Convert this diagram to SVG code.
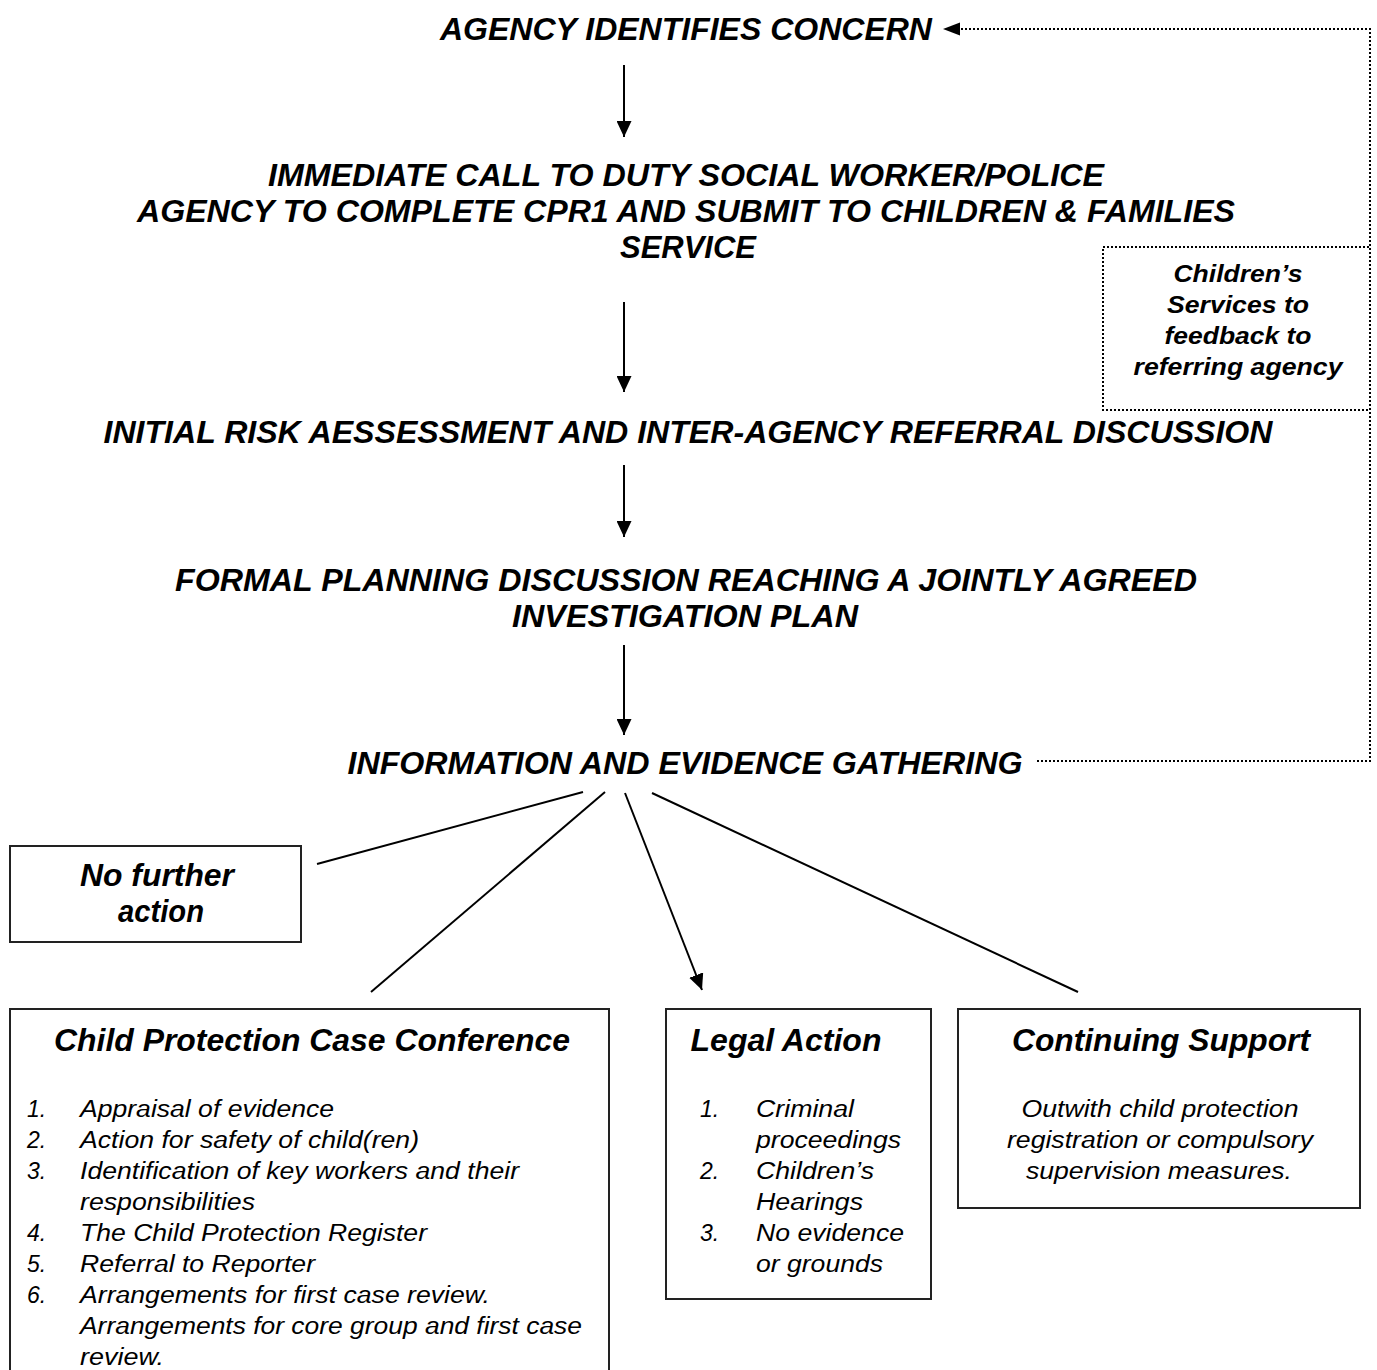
<svg xmlns="http://www.w3.org/2000/svg" width="1377" height="1370" viewBox="0 0 1377 1370">
<defs>
<marker id="ah" viewBox="0 0 16 15" refX="16" refY="7.5" markerWidth="16" markerHeight="15" markerUnits="userSpaceOnUse" orient="auto">
<path d="M0,0 L16,7.5 L0,15 Z" fill="#000"/>
</marker>
<style>
.h{font-family:"Liberation Sans",Arial,sans-serif;font-weight:bold;font-style:italic;font-size:31px;fill:#000;text-anchor:middle}
.t{font-family:"Liberation Sans",Arial,sans-serif;font-weight:bold;font-style:italic;font-size:31px;fill:#000;text-anchor:middle}
.fb{font-family:"Liberation Sans",Arial,sans-serif;font-weight:bold;font-style:italic;font-size:24px;fill:#000;text-anchor:middle}
.b{font-family:"Liberation Sans",Arial,sans-serif;font-style:italic;font-size:23px;fill:#000}
.bc{font-family:"Liberation Sans",Arial,sans-serif;font-style:italic;font-size:23px;fill:#000;text-anchor:middle}
.box{fill:#fff;stroke:#222;stroke-width:2}
.dot{fill:none;stroke:#000;stroke-width:2;stroke-dasharray:2 2}
.ln{fill:none;stroke:#000;stroke-width:2}
</style>
</defs>
<rect width="1377" height="1370" fill="#fff"/>

<g id="connectors">
<line class="ln" x1="624" y1="65" x2="624" y2="137" marker-end="url(#ah)"/>
<line class="ln" x1="624" y1="302" x2="624" y2="392" marker-end="url(#ah)"/>
<line class="ln" x1="624" y1="465" x2="624" y2="537" marker-end="url(#ah)"/>
<line class="ln" x1="624" y1="645" x2="624" y2="735" marker-end="url(#ah)"/>
<line class="ln" x1="583" y1="792" x2="317" y2="864"/>
<line class="ln" x1="605" y1="792" x2="371" y2="992"/>
<line class="ln" x1="625" y1="793" x2="702" y2="990" marker-end="url(#ah)"/>
<line class="ln" x1="652" y1="793" x2="1078" y2="992"/>
<polyline class="dot" points="1037,761 1370,761 1370,29 958,29"/>
<path d="M943,29 L960,22.5 L960,35.5 Z" fill="#000"/>
</g>

<g id="n-agency"><text class="h" x="686" y="40" textLength="492" lengthAdjust="spacingAndGlyphs">AGENCY IDENTIFIES CONCERN</text></g>

<g id="n-immediate">
<text class="h" x="686" y="186" textLength="836" lengthAdjust="spacingAndGlyphs">IMMEDIATE CALL TO DUTY SOCIAL WORKER/POLICE</text>
<text class="h" x="686" y="222" textLength="1098" lengthAdjust="spacingAndGlyphs">AGENCY TO COMPLETE CPR1 AND SUBMIT TO CHILDREN &amp; FAMILIES</text>
<text class="h" x="688" y="258" textLength="136" lengthAdjust="spacingAndGlyphs">SERVICE</text>
</g>

<g id="n-feedback">
<rect class="dot" x="1103" y="247" width="267" height="163"/>
<text class="fb" x="1238" y="282" textLength="129" lengthAdjust="spacingAndGlyphs">Children’s</text>
<text class="fb" x="1238" y="313" textLength="142" lengthAdjust="spacingAndGlyphs">Services to</text>
<text class="fb" x="1238" y="344" textLength="147" lengthAdjust="spacingAndGlyphs">feedback to</text>
<text class="fb" x="1238" y="375" textLength="209" lengthAdjust="spacingAndGlyphs">referring agency</text>
</g>

<g id="n-initial"><text class="h" x="688" y="443" textLength="1169" lengthAdjust="spacingAndGlyphs">INITIAL RISK AESSESSMENT AND INTER-AGENCY REFERRAL DISCUSSION</text></g>

<g id="n-formal">
<text class="h" x="686" y="591" textLength="1022" lengthAdjust="spacingAndGlyphs">FORMAL PLANNING DISCUSSION REACHING A JOINTLY AGREED</text>
<text class="h" x="685" y="627" textLength="346" lengthAdjust="spacingAndGlyphs">INVESTIGATION PLAN</text>
</g>

<g id="n-info"><text class="h" x="685" y="774" textLength="675" lengthAdjust="spacingAndGlyphs">INFORMATION AND EVIDENCE GATHERING</text></g>

<g id="n-nfa">
<rect class="box" x="10" y="846" width="291" height="96"/>
<text class="t" x="157" y="886" textLength="154" lengthAdjust="spacingAndGlyphs">No further</text>
<text class="t" x="161" y="922" textLength="86" lengthAdjust="spacingAndGlyphs">action</text>
</g>

<g id="n-cpcc">
<rect class="box" x="10" y="1009" width="599" height="380"/>
<text class="t" x="312" y="1051" textLength="516" lengthAdjust="spacingAndGlyphs">Child Protection Case Conference</text>
<text class="b" x="27" y="1117">1.</text><text class="b" x="80" y="1117" textLength="254" lengthAdjust="spacingAndGlyphs">Appraisal of evidence</text>
<text class="b" x="27" y="1148">2.</text><text class="b" x="80" y="1148" textLength="339" lengthAdjust="spacingAndGlyphs">Action for safety of child(ren)</text>
<text class="b" x="27" y="1179">3.</text><text class="b" x="80" y="1179" textLength="439" lengthAdjust="spacingAndGlyphs">Identification of key workers and their</text>
<text class="b" x="80" y="1210" textLength="175" lengthAdjust="spacingAndGlyphs">responsibilities</text>
<text class="b" x="27" y="1241">4.</text><text class="b" x="80" y="1241" textLength="347" lengthAdjust="spacingAndGlyphs">The Child Protection Register</text>
<text class="b" x="27" y="1272">5.</text><text class="b" x="80" y="1272" textLength="235" lengthAdjust="spacingAndGlyphs">Referral to Reporter</text>
<text class="b" x="27" y="1303">6.</text><text class="b" x="80" y="1303" textLength="410" lengthAdjust="spacingAndGlyphs">Arrangements for first case review.</text>
<text class="b" x="80" y="1334" textLength="502" lengthAdjust="spacingAndGlyphs">Arrangements for core group and first case</text>
<text class="b" x="80" y="1365" textLength="84" lengthAdjust="spacingAndGlyphs">review.</text>
</g>

<g id="n-legal">
<rect class="box" x="666" y="1009" width="265" height="290"/>
<text class="t" x="786" y="1051" textLength="191" lengthAdjust="spacingAndGlyphs">Legal Action</text>
<text class="b" x="700" y="1117">1.</text><text class="b" x="756" y="1117" textLength="98" lengthAdjust="spacingAndGlyphs">Criminal</text>
<text class="b" x="756" y="1148" textLength="145" lengthAdjust="spacingAndGlyphs">proceedings</text>
<text class="b" x="700" y="1179">2.</text><text class="b" x="756" y="1179" textLength="118" lengthAdjust="spacingAndGlyphs">Children’s</text>
<text class="b" x="756" y="1210" textLength="107" lengthAdjust="spacingAndGlyphs">Hearings</text>
<text class="b" x="700" y="1241">3.</text><text class="b" x="756" y="1241" textLength="148" lengthAdjust="spacingAndGlyphs">No evidence</text>
<text class="b" x="756" y="1272" textLength="127" lengthAdjust="spacingAndGlyphs">or grounds</text>
</g>

<g id="n-support">
<rect class="box" x="958" y="1009" width="402" height="199"/>
<text class="t" x="1161" y="1051" textLength="298" lengthAdjust="spacingAndGlyphs">Continuing Support</text>
<text class="bc" x="1160" y="1117" textLength="277" lengthAdjust="spacingAndGlyphs">Outwith child protection</text>
<text class="bc" x="1160" y="1148" textLength="306" lengthAdjust="spacingAndGlyphs">registration or compulsory</text>
<text class="bc" x="1159" y="1179" textLength="266" lengthAdjust="spacingAndGlyphs">supervision measures.</text>
</g>
</svg>
